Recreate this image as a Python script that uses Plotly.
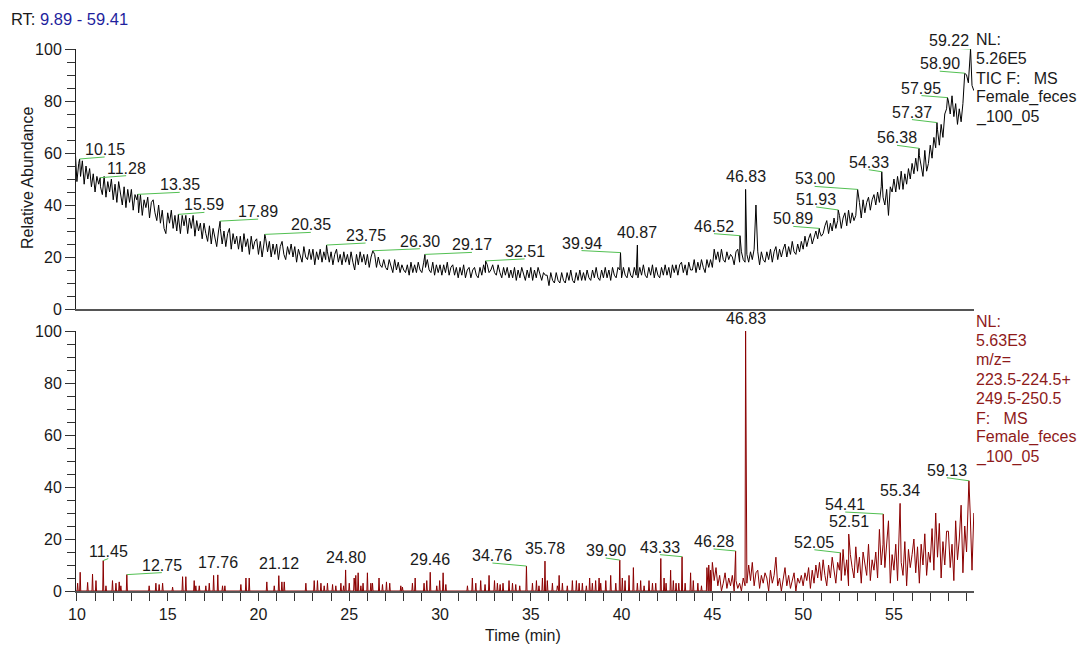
import numpy as np
import plotly.graph_objects as go

# ---------------- data ----------------
# TIC trace (top), sampled every 0.1 min from 9.9 min (one row = 1 min)
tic_start = 9.9
tic_step = 0.1
tic_values = [
    62, 49, 56, 51, 57, 48, 55, 50, 54, 47,   # 9.9
    52, 45, 51, 48, 47, 44, 51, 43, 49, 45,   # 10.9
    50, 42, 48, 41, 49, 44, 40, 47, 39, 46,   # 11.9
    41, 46, 38, 44, 42, 37, 44, 36, 42, 39,   # 12.9
    43, 35, 41, 42, 37, 34, 40, 33, 38, 31,   # 13.9
    29, 37, 33, 38, 31, 36, 30, 35, 29, 36,   # 14.9
    32, 36, 29, 35, 31, 36, 28, 34, 30, 33,   # 15.9
    27, 33, 29, 26, 32, 25, 31, 28, 24, 30,   # 16.9
    31, 25, 30, 24, 29, 31, 23, 29, 25, 28,   # 17.9
    23, 28, 22, 29, 24, 27, 21, 28, 23, 26,   # 18.9
    27, 21, 26, 20, 25, 27, 22, 26, 20, 25,   # 19.9
    21, 25, 19, 24, 26, 21, 19, 24, 21, 25,   # 20.9
    20, 24, 18, 23, 20, 18, 24, 20, 19, 23,   # 21.9
    19, 23, 17, 22, 19, 23, 18, 22, 19, 22,   # 22.9
    18, 22, 17, 21, 23, 18, 21, 17, 22, 18,   # 23.9
    21, 17, 22, 18, 15, 21, 17, 22, 18, 21,   # 24.9
    17, 21, 16, 20, 17, 21, 16, 20, 17, 16,   # 25.9
    19, 16, 15, 19, 16, 14, 19, 15, 18, 14,   # 26.9
    17, 15, 14, 17, 13, 18, 14, 17, 14, 18,   # 27.9
    15, 14, 18, 16, 19, 15, 14, 18, 13, 17,   # 28.9
    14, 17, 13, 17, 14, 18, 13, 16, 17, 13,   # 29.9
    16, 12, 16, 13, 17, 12, 15, 16, 12, 15,   # 30.9
    16, 13, 12, 16, 13, 17, 14, 17, 14, 15,   # 31.9
    17, 14, 13, 17, 14, 12, 16, 13, 16, 12,   # 32.9
    15, 12, 16, 11, 15, 12, 16, 13, 11, 15,   # 33.9
    12, 16, 11, 15, 12, 16, 13, 11, 14, 13,   # 34.9
    13, 9, 14, 11, 10, 14, 11, 10, 14, 11,    # 35.9
    10, 14, 11, 15, 11, 10, 14, 11, 15, 11,   # 36.9
    14, 11, 15, 12, 11, 15, 12, 16, 12, 11,   # 37.9
    15, 12, 16, 12, 15, 11, 16, 13, 12, 16,   # 38.9
    15, 12, 16, 13, 12, 16, 13, 12, 16, 13,   # 39.9
    12, 16, 13, 17, 13, 12, 16, 13, 17, 12,   # 40.9
    16, 13, 12, 16, 13, 17, 13, 16, 12, 17,   # 41.9
    14, 17, 13, 17, 18, 14, 17, 13, 18, 15,   # 42.9
    15, 19, 14, 18, 15, 19, 16, 14, 19, 16,   # 43.9
    19, 16, 23, 19, 22, 18, 23, 19, 18, 22,   # 44.9
    19, 21, 20, 17, 22, 23, 18, 22, 19, 18,   # 45.9
    21, 18, 22, 19, 23, 40, 22, 17, 22, 19,   # 46.9
    18, 22, 19, 23, 18, 22, 24, 19, 23, 20,   # 47.9
    23, 25, 20, 24, 21, 26, 22, 21, 25, 22,   # 48.9
    26, 23, 28, 24, 27, 29, 25, 28, 30, 27,   # 49.9
    30, 28, 29, 32, 34, 29, 33, 30, 35, 31,   # 50.9
    34, 36, 31, 35, 37, 32, 38, 33, 37, 34,   # 51.9
    36, 40, 41, 35, 42, 37, 41, 43, 38, 42,   # 52.9
    44, 40, 45, 41, 47, 43, 40, 46, 36, 47,   # 53.9
    45, 50, 45, 51, 46, 53, 46, 52, 48, 54,   # 54.9
    50, 56, 52, 58, 53, 59, 55, 51, 61, 53,   # 55.9
    56, 63, 58, 66, 62, 69, 63, 71, 66, 75,   # 56.9
    77, 80, 75, 82, 74, 79, 71, 77, 72, 79,   # 57.9
    86, 90, 87, 96, 86, 84,                   # 58.9 - 59.4
]
tic_peak_rt = [10.15, 11.28, 13.35, 15.59, 17.89, 20.35, 23.75, 26.30, 29.17, 32.51,
               39.94, 40.87, 46.52, 46.83, 50.89, 51.93, 53.00, 54.33, 56.38, 57.37,
               57.95, 58.90, 59.22]
tic_peak_ht = [57.7, 50.5, 44.1, 36.4, 33.8, 28.7, 24.6, 22.4, 21.0, 18.5,
               21.7, 24.6, 28.2, 46.0, 31.0, 38.1, 46.0, 52.8, 61.8, 71.7,
               81.3, 90.7, 100.0]

# XIC trace (bottom): isolated spikes before 45 min
xic_spike_rt = [10.04, 10.18, 10.59, 10.86, 11.05, 11.60, 11.96, 12.15, 12.33, 12.42,
                13.98, 14.35, 14.53, 14.72, 15.27, 15.82, 16.00, 16.46, 16.55, 16.74,
                17.10, 17.29, 17.53, 18.02, 18.15, 19.03, 19.31, 19.49, 20.46, 20.87,
                21.29, 21.42, 22.61, 23.07, 23.25, 23.44, 23.62, 23.80, 24.08, 24.26,
                24.54, 24.69, 25.00, 25.27, 25.36, 25.49, 25.64, 25.76, 26.00, 26.19,
                26.28, 26.64, 26.83, 27.05, 27.23, 27.84, 27.93, 28.48, 28.63, 29.12,
                29.27, 29.82, 29.98, 30.17, 30.32, 31.51, 31.78, 31.97, 32.24, 32.48,
                32.70, 33.00, 33.16, 33.31, 33.47, 33.80, 33.99, 34.17, 34.39, 35.09,
                35.31, 35.45, 35.64, 35.91, 36.19, 36.46, 36.56, 36.74, 37.01, 37.29,
                37.51, 37.66, 37.84, 38.06, 38.24, 38.39, 38.57, 38.76, 38.85, 39.13,
                39.40, 39.68, 40.04, 40.19, 40.41, 40.65, 40.87, 41.05, 41.24, 41.51,
                41.70, 41.88, 42.16, 42.34, 42.45, 42.70, 42.85, 43.00, 43.15, 43.50,
                43.80, 43.95, 44.20, 44.40, 44.70, 44.80, 44.90]
xic_spike_ht = [3, 7.2, 3.3, 6.5, 4, 2, 4, 3, 3.5, 2,
                2, 3, 2.5, 3, 1.5, 5.5, 5.5, 4, 2, 2,
                2, 3, 6, 2, 2, 2.5, 5, 5, 3.5, 2,
                3.5, 3.5, 3, 4, 4, 3, 2, 3, 2.5, 2,
                3, 2, 3, 5, 6, 7, 2, 3, 7, 3,
                3, 5, 2.5, 3.5, 3, 2, 1.5, 3, 5, 3,
                4, 2, 4, 7, 2.5, 2, 5, 3, 4, 2.5,
                6, 4, 3, 2.5, 3, 4, 3, 2.5, 2, 3,
                4, 2, 5, 4, 3, 2, 6, 3, 2, 4,
                4, 3, 3, 2, 5, 3, 4, 5, 3, 4,
                6, 3, 5, 4, 6, 9, 3, 4, 2, 4,
                3, 3, 12.5, 5, 3, 8, 4, 3, 3, 3,
                7, 4, 3, 2, 9, 10, 8]
# XIC trace (bottom): continuous region from 45.0 min, every 0.1 min
xic_dense_start = 45.0
xic_dense_step = 0.1
xic_dense_values = [
    11, 4, 9, 2, 6, 0, 3, 7, 1, 5,          # 45.0
    2, 6, 0, 4, 1, 3, 0, 5, 2, 3,           # 46.0
    10, 4, 11, 2, 7, 8, 1, 6, 3, 7,         # 47.0
    5, 0, 8, 3, 6, 13, 2, 5, 0, 4,          # 48.0
    9, 2, 6, 1, 4, 7, 0, 5, 3, 6,           # 49.0
    2, 7, 4, 9, 1, 8, 3, 10, 5, 11,         # 50.0
    4, 12, 6, 2, 10, 5, 13, 7, 3, 11,       # 51.0
    8, 4, 16, 6, 12, 2, 14, 9, 5, 17,       # 52.0
    7, 13, 3, 15, 10, 6, 18, 4, 12, 8,      # 53.0
    15, 5, 23.7, 10, 18, 9, 20, 27, 3, 14,  # 54.0
    8, 18, 4, 22, 11, 6, 19, 2, 16, 9,      # 55.0
    14, 20, 7, 17, 3, 18, 10, 22, 6, 15,    # 56.0
    11, 24, 8, 30, 13, 26, 5, 19, 10, 23,   # 57.0
    23, 9, 18, 4, 27, 12, 20, 33, 7, 25,    # 58.0
    15, 35, 30, 8, 30,                      # 59.0 - 59.4
]
xic_peak_rt = [11.45, 12.75, 17.76, 21.12, 24.80, 29.46, 34.76, 35.78, 39.90, 43.33,
               46.28, 46.83, 52.05, 52.51, 54.41, 55.34, 59.13]
xic_peak_ht = [11.7, 6.3, 6.2, 5.9, 8.1, 7.2, 9.6, 11.5, 11.9, 13.2,
               15.4, 100.0, 14.7, 21.9, 29.6, 33.7, 42.4]

rt_range_text = "9.89 - 59.41"
rt_first = 9.89
top_info = ["NL:", "5.26E5", "TIC F:\u00a0\u00a0 MS", "Female_feces", "_100_05"]
bottom_info = ["NL:", "5.63E3", "m/z=", "223.5-224.5+", "249.5-250.5",
               "F:\u00a0\u00a0 MS", "Female_feces", "_100_05"]

# ---------------- label placement (pixels) ----------------
top_lbl_dx = [25, 26, 42, 26, 38, 46, 39, 47, 47, 39, -39, 0, -26, 0, -26, -22, -43, -13, -22, -25, -26, -25, -22]
top_lbl_up = [2, 2, 2, 2, 2, 2, 2, 2, 2, 2, 2, 0, 2, 0, 2, 3, 3, 2, 3, 3, 2, 2, 1]
bot_lbl_dx = [5, 35, 0, 0, 0, 0, -34, 0, -14, -22, -22, 0, -26, 0, -38, 0, -22]
bot_lbl_up = [2, 2, 0, 0, 0, 0, 3, 0, 2, 2, 2, 0, 3, 0, 2, 0, 3]

# ---------------- layout constants ----------------
W, H = 1083, 645
ML, MR, MT, MB = 76, 109, 49, 54
PW, PH = W - ML - MR, H - MT - MB
X0, X1 = 9.95, 59.41
top_dom = [(591 - 309) / PH, 1.0]
bot_dom = [0.0, (591 - 331) / PH]
PX_PER_MIN = PW / (X1 - X0)
PX_PER_UNIT = 260 / 100.0
FONT = "Liberation Sans, Arial, sans-serif"
GREEN = "#52c052"
DARKRED = "#8b0000"
TEXTRED = "#8e1a1a"


def py_to_paper(py):
    return (H - MB - py) / PH


# ---------------- build series ----------------
tic_pts = {}
for i, v in enumerate(tic_values):
    tic_pts[round(tic_start + i * tic_step, 2)] = v
for r, h in zip(tic_peak_rt, tic_peak_ht):
    tic_pts[round(r, 2)] = h
tic_x = sorted(tic_pts)
tic_y = [tic_pts[t] for t in tic_x]

spikes = list(zip(xic_spike_rt, xic_spike_ht)) + \
    [(r, h) for r, h in zip(xic_peak_rt, xic_peak_ht) if r < xic_dense_start]
spikes.sort()
xic_x, xic_y = [rt_first], [0]
for r, h in spikes:
    xic_x += [r - 0.03, r, r + 0.03]
    xic_y += [0, h, 0]
dense = {}
for i, v in enumerate(xic_dense_values):
    dense[round(xic_dense_start + i * xic_dense_step, 2)] = v
for r, h in zip(xic_peak_rt, xic_peak_ht):
    if r >= xic_dense_start:
        dense[round(r, 2)] = h
for t in sorted(dense):
    xic_x.append(t)
    xic_y.append(dense[t])

fig = go.Figure()
fig.add_trace(go.Scatter(x=tic_x, y=tic_y, mode="lines", xaxis="x", yaxis="y",
                         line=dict(color="black", width=1), hoverinfo="skip"))
fig.add_trace(go.Scatter(x=xic_x, y=xic_y, mode="lines", xaxis="x2", yaxis="y2",
                         line=dict(color=DARKRED, width=1), hoverinfo="skip"))

annotations = []
shapes = []


def add_labels(rts, hts, dxs, ups, xref, yref):
    for r, h, dx, up in zip(rts, hts, dxs, ups):
        if dx != 0:
            shapes.append(dict(type="line", xref=xref, yref=yref,
                               x0=r, y0=h,
                               x1=r + dx / PX_PER_MIN, y1=h + up / PX_PER_UNIT,
                               line=dict(color=GREEN, width=1)))
            ys = up - 3
        else:
            ys = 2
        annotations.append(dict(text=f"{r:.2f}", x=r, y=h, xref=xref, yref=yref,
                                xshift=dx, yshift=ys, xanchor="center", yanchor="bottom",
                                showarrow=False, font=dict(size=16, color="#1a1a1a", family=FONT)))


add_labels(tic_peak_rt, tic_peak_ht, top_lbl_dx, top_lbl_up, "x", "y")
add_labels(xic_peak_rt, xic_peak_ht, bot_lbl_dx, bot_lbl_up, "x2", "y2")

# header
annotations.append(dict(text=f"RT: <span style='color:#1f1f9e'>{rt_range_text}</span>",
                        x=(9 - ML) / PW, y=py_to_paper(19), xref="paper", yref="paper",
                        xanchor="left", yanchor="middle", showarrow=False,
                        font=dict(size=16.5, color="#1a1a1a", family=FONT)))
for i, t in enumerate(top_info):
    annotations.append(dict(text=t, x=1.0, y=py_to_paper(39 + 19.5 * i), xref="paper", yref="paper",
                            xanchor="left", yanchor="middle", showarrow=False,
                            font=dict(size=16, color="#1a1a1a", family=FONT)))
for i, t in enumerate(bottom_info):
    annotations.append(dict(text=t, x=1.0, y=py_to_paper(321 + 19.4 * i), xref="paper", yref="paper",
                            xanchor="left", yanchor="middle", showarrow=False,
                            font=dict(size=16, color=TEXTRED, family=FONT)))
annotations.append(dict(text="Relative Abundance", x=(27 - ML) / PW, y=py_to_paper(178),
                        xref="paper", yref="paper", textangle=-90, xanchor="center", yanchor="middle",
                        showarrow=False, font=dict(size=16, color="#1a1a1a", family=FONT)))
annotations.append(dict(text="Time (min)", x=(523 - ML) / PW, y=py_to_paper(635),
                        xref="paper", yref="paper", xanchor="center", yanchor="middle",
                        showarrow=False, font=dict(size=16, color="#1a1a1a", family=FONT)))

yax = dict(range=[0, 100], tick0=0, dtick=20, ticks="outside", ticklen=10, tickwidth=1,
           tickcolor="#333", showline=True, linecolor="#222", linewidth=1, showgrid=False,
           zeroline=False, tickfont=dict(size=16, color="#1a1a1a", family=FONT),
           minor=dict(dtick=5, tick0=0, ticks="outside", ticklen=8, tickcolor="#333", showgrid=False))

fig.update_layout(
    width=W, height=H, margin=dict(l=ML, r=MR, t=MT, b=MB),
    paper_bgcolor="white", plot_bgcolor="white", showlegend=False,
    xaxis=dict(domain=[0, 1], range=[X0, X1], anchor="y", showticklabels=False, ticks="",
               showline=True, linecolor="#555", linewidth=2, showgrid=False, zeroline=False),
    yaxis=dict(domain=top_dom, anchor="x", **yax),
    xaxis2=dict(domain=[0, 1], range=[X0, X1], anchor="y2", tick0=10, dtick=5, ticks="outside",
                ticklen=8, tickcolor="#333", showline=True, linecolor="#555", linewidth=2,
                showgrid=False, zeroline=False, tickfont=dict(size=16, color="#1a1a1a", family=FONT),
                minor=dict(dtick=1, tick0=10, ticks="outside", ticklen=8, tickcolor="#333", showgrid=False)),
    yaxis2=dict(domain=bot_dom, anchor="x2", **yax),
    annotations=annotations, shapes=shapes,
)

fig.write_html("out.html", config={"displayModeBar": False},
               post_script="document.body.style.margin='0px';document.body.style.overflow='hidden';")
